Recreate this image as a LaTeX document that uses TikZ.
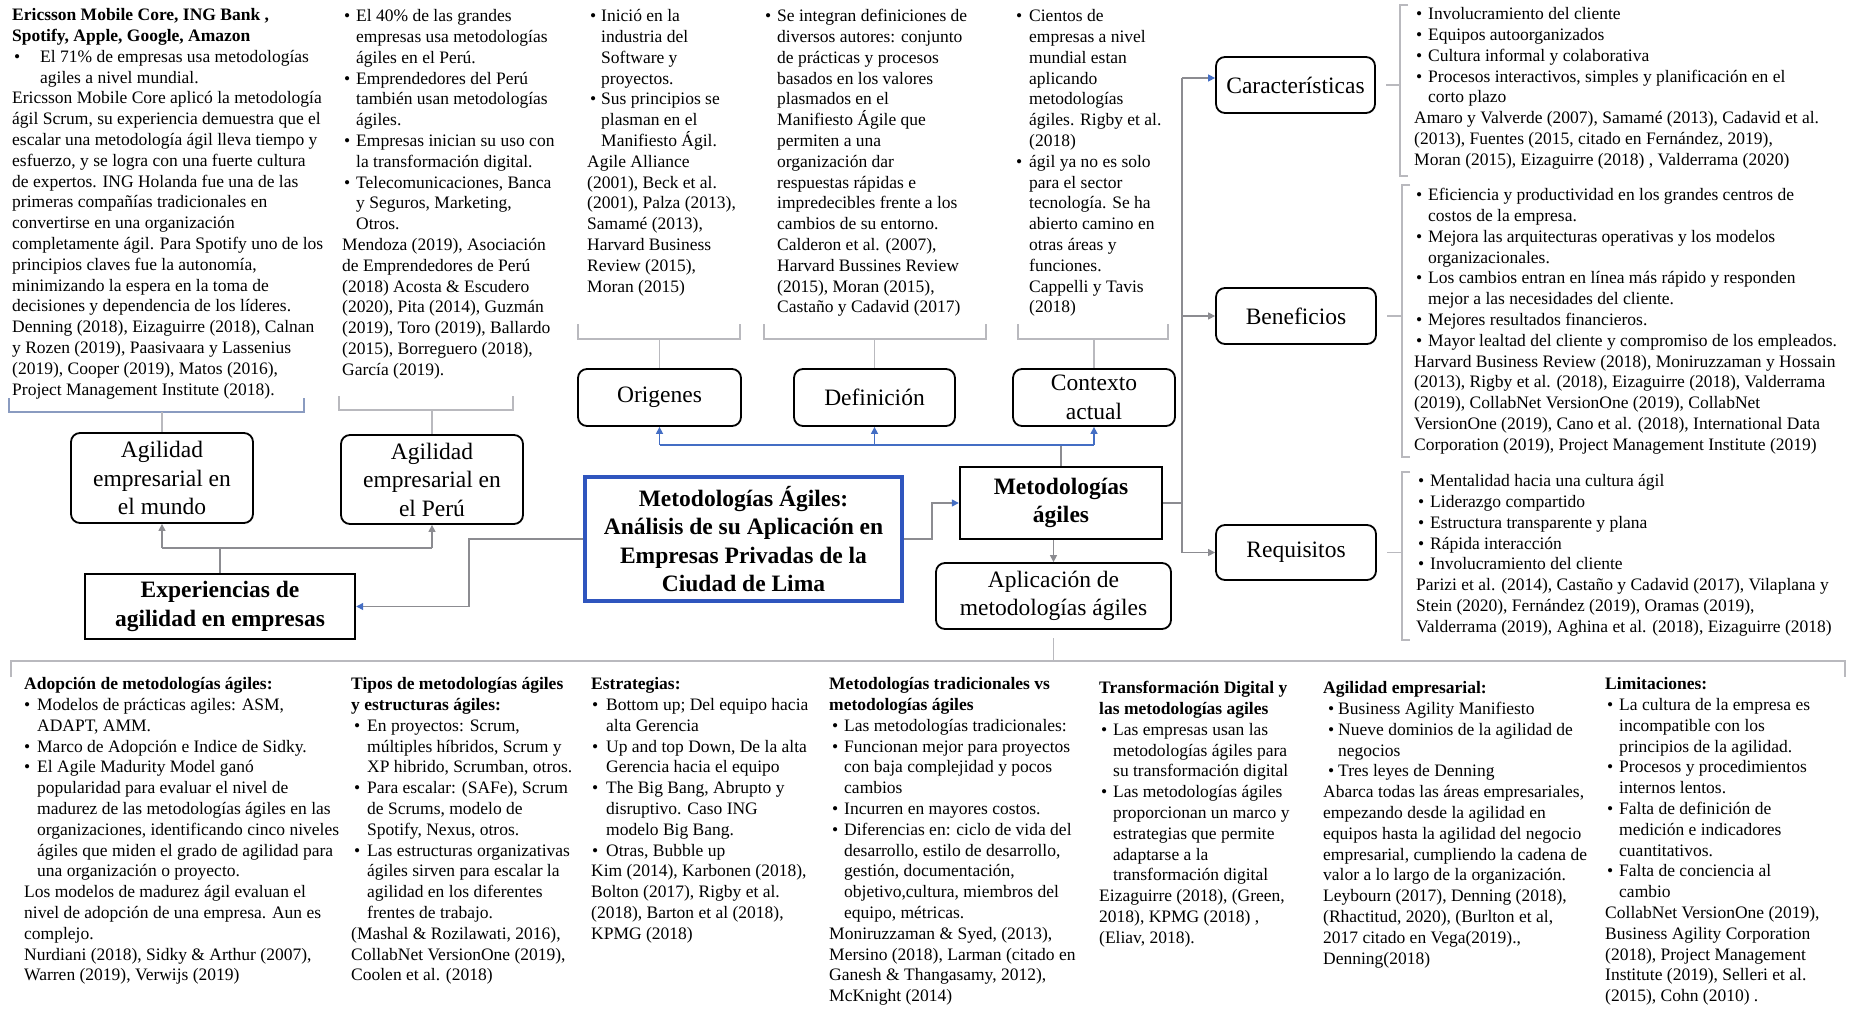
\documentclass[tikz,border=0pt]{standalone}
\usepackage{fontspec}
\setmainfont{Liberation Serif}
\usetikzlibrary{arrows.meta}
\newlength\bo \newlength\bt
\newcommand\Bu{\hspace*{\bo}\makebox[\dimexpr\bt-\bo\relax][l]{•}}
\newcommand\In{\hspace*{\bt}}
\newcommand\fs{\fontsize{17.5pt}{20.8pt}\selectfont}
\newcommand\fb{\fontsize{23.5pt}{28.5pt}\selectfont}
\definecolor{blu}{RGB}{68,110,196}
\definecolor{cbl}{RGB}{47,85,190}
\definecolor{brkc}{RGB}{185,185,190}
\definecolor{conc}{RGB}{140,140,145}
\begin{document}
\begin{tikzpicture}[x=1pt,y=-1pt,
  txt/.style={anchor=north west,inner sep=0pt,align=left,font=\fs},
  rbox/.style={draw,rounded corners=9pt,line width=1.8pt,font=\fb,align=center,inner sep=0pt},
  sbox/.style={draw,line width=2.4pt,font=\fb\bfseries,align=center,inner sep=0pt},
  brk/.style={draw=brkc,line width=1.3pt},
  con/.style={draw=conc,line width=1.3pt},
  tip/.style={-{Triangle[length=7pt,width=7pt,color=conc]}},
  btip/.style={-{Triangle[length=7pt,width=7pt,color=blu]}}]
\fill[white] (0,0) rectangle (1849,1009);
\useasboundingbox (0,0) rectangle (1849,1009);

% ---------- boxes ----------
\node[rbox,minimum width=182pt,minimum height=90pt] (mundo) at (162,478) {Agilidad\\empresarial en\\el mundo};
\node[rbox,minimum width=182pt,minimum height=89pt] (peru) at (432,479.5) {Agilidad\\empresarial en\\el Perú};
\node[sbox,minimum width=270pt,minimum height=65pt] (exp) at (220,606.5) {Experiencias de\\agilidad en empresas};
\node[draw=cbl,line width=3.5pt,font=\fb\bfseries,align=center,inner sep=0pt,minimum width=317pt,minimum height=124pt] (central) at (743.5,539) {Metodologías Ágiles:\\Análisis de su Aplicación en\\Empresas Privadas de la\\Ciudad de Lima};
\node[rbox,minimum width=163pt,minimum height=57pt] (orig) at (659.5,397.5) {Origenes};
\node[rbox,minimum width=161pt,minimum height=57pt] (defi) at (874.5,397.5) {Definición};
\node[rbox,minimum width=162pt,minimum height=57pt] (ctx) at (1094,397.5) {Contexto\\actual};
\node[sbox,minimum width=202pt,minimum height=72pt] (metod) at (1061,503) {Metodologías\\ágiles};
\node[rbox,minimum width=235pt,minimum height=66pt] (aplic) at (1053.5,596) {Aplicación de\\metodologías ágiles};
\node[rbox,minimum width=159pt,minimum height=56pt] (carac) at (1295.5,85) {Características};
\node[rbox,minimum width=160pt,minimum height=56pt] (bene) at (1296,316) {Beneficios};
\node[rbox,minimum width=160pt,minimum height=55pt] (requi) at (1296,552.5) {Requisitos};

% ---------- connectors ----------
\coordinate (ej) at (220,548);
\draw[con] (exp.north) -- (ej);
\draw[con] (mundo.south |- ej) -- (peru.south |- ej);
\draw[con,tip] (mundo.south |- ej) -- (mundo.south);
\draw[con,tip] (peru.south |- ej) -- (peru.south);
\coordinate (cj) at (469,539);
\draw[con,btip] (central.west) -- (cj) |- (exp.east);
\coordinate (mj) at (932,539);
\draw[con,btip] (central.east) -- (mj) |- (metod.west);
\draw[con,tip] (aplic.north |- metod.south) -- (aplic.north);
\coordinate (bl) at (1061,445);
\draw[con] (metod.north) -- (bl);
\draw[draw=blu,line width=1.5pt] (orig.south |- bl) -- (ctx.south |- bl);
\draw[draw=blu,line width=1.5pt,btip] (orig.south |- bl) -- (orig.south);
\draw[draw=blu,line width=1.5pt,btip] (defi.south |- bl) -- (defi.south);
\draw[draw=blu,line width=1.5pt,btip] (ctx.south |- bl) -- (ctx.south);
\coordinate (rv1) at (1182,78);
\coordinate (rv2) at (1182,503);
\coordinate (rv3) at (1182,552.5);
\draw[con] (metod.east) -- (rv2);
\draw[con] (rv1) -- (rv3);
\draw[con,btip] (rv1) -- ([yshift=7pt]carac.west);
\draw[con,tip] (rv1 |- bene.west) -- (bene.west);
\draw[con,tip] (rv3) -- (requi.west);

% ---------- brackets ----------
\draw[draw=blu!40!brkc,line width=1.3pt] (9,398) -- (9,412) -- (304,412) -- (304,398);
\coordinate (b1) at (162,412); \draw[brk] (b1) -- (mundo.north);
\draw[brk] (339,396) -- (339,410) -- (513,410) -- (513,396);
\coordinate (b2) at (432,410); \draw[brk] (b2) -- (peru.north);
\draw[brk] (578,324) -- (578,339) -- (740,339) -- (740,324);
\coordinate (b3) at (659.5,339); \draw[brk] (b3) -- (orig.north);
\draw[brk] (764,324) -- (764,339) -- (986,339) -- (986,324);
\coordinate (b4) at (874.5,339); \draw[brk] (b4) -- (defi.north);
\draw[brk] (1018,324) -- (1018,339) -- (1168,339) -- (1168,324);
\coordinate (b5) at (1094,339); \draw[brk] (b5) -- (ctx.north);
\draw[brk] (1408,5) -- (1400,5) -- (1400,176) -- (1408,176);
\coordinate (b6) at (1400,85); \draw[brk] (b6) -- ([xshift=10pt]carac.east);
\draw[brk] (1410,185) -- (1402,185) -- (1402,457) -- (1410,457);
\coordinate (b7) at (1402,316); \draw[brk] (b7) -- ([xshift=10pt]bene.east);
\draw[brk] (1410,472) -- (1402,472) -- (1402,640) -- (1410,640);
\coordinate (b8) at (1402,552.5); \draw[brk] (b8) -- ([xshift=10pt]requi.east);
\draw[brk] (11,677) -- (11,661) -- (1845,661) -- (1845,677);
\coordinate (b9) at (1053.5,661); \draw[brk] (b9) -- ([yshift=-8pt]aplic.south);

% ---------- top texts ----------
\node[txt] (t1) at (12,6) {\strut\textbf{Ericsson Mobile Core, ING Bank ,}\\
\textbf{Spotify, Apple, Google, Amazon}\\
\hspace*{2pt}\makebox[26pt][l]{•}El 71\% de empresas usa metodologías\\
\hspace*{28pt}agiles a nivel mundial.\\
Ericsson Mobile Core aplicó la metodología\\
ágil Scrum, su experiencia demuestra que el\\
escalar una metodología ágil lleva tiempo y\\
esfuerzo, y se logra con una fuerte cultura\\
de expertos.  ING Holanda fue una de las\\
primeras compañías tradicionales en\\
convertirse en una organización\\
completamente ágil. Para Spotify uno de los\\
principios claves fue la autonomía,\\
minimizando la espera en la toma de\\
decisiones y dependencia de los líderes.\\
Denning (2018), Eizaguirre (2018), Calnan\\
y Rozen (2019), Paasivaara y Lassenius\\
(2019), Cooper (2019), Matos (2016),\\
Project Management Institute (2018).};

\setlength\bo{2pt}\setlength\bt{14pt}
\node[txt] (t2) at (342,7) {\strut\Bu El 40\% de las grandes\\
\In empresas usa metodologías\\
\In ágiles en el Perú.\\
\Bu Emprendedores del Perú\\
\In también usan metodologías\\
\In ágiles.\\
\Bu Empresas inician su uso con\\
\In la transformación digital.\\
\Bu Telecomunicaciones, Banca\\
\In y Seguros, Marketing,\\
\In Otros.\\
Mendoza (2019), Asociación\\
de Emprendedores de Perú\\
(2018) Acosta \& Escudero\\
(2020), Pita (2014), Guzmán\\
(2019), Toro (2019), Ballardo\\
(2015), Borreguero (2018),\\
García (2019).};

\setlength\bo{3pt}\setlength\bt{14pt}
\node[txt] (t3) at (587,7) {\strut\Bu Inició en la\\
\In industria del\\
\In Software y\\
\In proyectos.\\
\Bu Sus principios se\\
\In plasman en el\\
\In Manifiesto Ágil.\\
Agile Alliance\\
(2001), Beck et al.\\
(2001), Palza (2013),\\
Samamé (2013),\\
Harvard Business\\
Review (2015),\\
Moran (2015)};

\setlength\bo{0pt}\setlength\bt{12pt}
\node[txt] (t4) at (765,7) {\strut\Bu Se integran definiciones de\\
\In diversos autores: conjunto\\
\In de prácticas y procesos\\
\In basados en los valores\\
\In plasmados en el\\
\In Manifiesto Ágile que\\
\In permiten a una\\
\In organización dar\\
\In respuestas rápidas e\\
\In impredecibles frente a los\\
\In cambios de su entorno.\\
\In Calderon et al. (2007),\\
\In Harvard Bussines Review\\
\In (2015), Moran (2015),\\
\In Castaño y Cadavid (2017)};

\setlength\bo{0pt}\setlength\bt{13pt}
\node[txt] (t5) at (1016,7) {\strut\Bu Cientos de\\
\In empresas a nivel\\
\In mundial estan\\
\In aplicando\\
\In metodologías\\
\In ágiles. Rigby et al.\\
\In (2018)\\
\Bu ágil ya no es solo\\
\In para el sector\\
\In tecnología. Se ha\\
\In abierto camino en\\
\In otras áreas y\\
\In funciones.\\
\In Cappelli y Tavis\\
\In (2018)};

% ---------- right texts ----------
\setlength\bo{2pt}\setlength\bt{14pt}
\node[txt] (t6) at (1414,5) {\strut\Bu Involucramiento del cliente\\
\Bu Equipos autoorganizados\\
\Bu Cultura informal y colaborativa\\
\Bu Procesos interactivos, simples y planificación en el\\
\In corto plazo\\
Amaro y Valverde (2007), Samamé (2013), Cadavid et al.\\
(2013), Fuentes (2015, citado en Fernández, 2019),\\
Moran (2015), Eizaguirre (2018) , Valderrama (2020)};

\node[txt] (t7) at (1414,186) {\strut\Bu Eficiencia y productividad en los grandes centros de\\
\In costos de la empresa.\\
\Bu Mejora las arquitecturas operativas y los modelos\\
\In organizacionales.\\
\Bu Los cambios entran en línea más rápido y responden\\
\In mejor a las necesidades del cliente.\\
\Bu Mejores resultados financieros.\\
\Bu Mayor lealtad del cliente y compromiso de los empleados.\\
Harvard Business Review (2018), Moniruzzaman y Hossain\\
(2013), Rigby et al. (2018), Eizaguirre (2018), Valderrama\\
(2019), CollabNet VersionOne (2019), CollabNet\\
VersionOne (2019), Cano et al. (2018), International Data\\
Corporation (2019), Project Management Institute (2019)};

\node[txt] (t8) at (1416,472) {\strut\Bu Mentalidad hacia una cultura ágil\\
\Bu Liderazgo compartido\\
\Bu Estructura transparente y plana\\
\Bu Rápida interacción\\
\Bu Involucramiento del cliente\\
Parizi et al. (2014), Castaño y Cadavid (2017), Vilaplana y\\
Stein (2020), Fernández (2019), Oramas (2019),\\
Valderrama (2019), Aghina et al. (2018), Eizaguirre (2018)};

% ---------- bottom texts ----------
\setlength\bo{0pt}\setlength\bt{13pt}
\node[txt] (b1t) at (24,675) {\strut\textbf{Adopción de metodologías ágiles:}\\
\Bu Modelos de prácticas agiles: ASM,\\
\In ADAPT, AMM.\\
\Bu Marco de Adopción e Indice de Sidky.\\
\Bu El Agile Madurity Model ganó\\
\In popularidad para evaluar el nivel de\\
\In madurez de las metodologías ágiles en las\\
\In organizaciones, identificando cinco niveles\\
\In ágiles que miden el grado de agilidad  para\\
\In una organización o proyecto.\\
Los modelos de madurez ágil evaluan el\\
nivel de adopción de una empresa. Aun es\\
complejo.\\
Nurdiani (2018), Sidky \& Arthur (2007),\\
Warren (2019), Verwijs (2019)};

\setlength\bo{3pt}\setlength\bt{16pt}
\node[txt] (b2t) at (351,675) {\strut\textbf{Tipos de metodologías ágiles}\\
\textbf{y estructuras ágiles:}\\
\Bu En proyectos: Scrum,\\
\In múltiples híbridos, Scrum y\\
\In XP hibrido, Scrumban, otros.\\
\Bu Para escalar: (SAFe), Scrum\\
\In de Scrums, modelo de\\
\In Spotify, Nexus, otros.\\
\Bu Las estructuras organizativas\\
\In ágiles sirven para escalar la\\
\In agilidad en los diferentes\\
\In frentes de trabajo.\\
(Mashal \& Rozilawati, 2016),\\
CollabNet VersionOne (2019),\\
Coolen et al. (2018)};

\setlength\bo{1pt}\setlength\bt{15pt}
\node[txt] (b3t) at (591,675) {\strut\textbf{Estrategias:}\\
\Bu Bottom up; Del equipo hacia\\
\In alta Gerencia\\
\Bu Up and top Down, De la alta\\
\In Gerencia hacia el equipo\\
\Bu The Big Bang, Abrupto y\\
\In disruptivo. Caso ING\\
\In modelo Big Bang.\\
\Bu Otras, Bubble up\\
Kim (2014), Karbonen (2018),\\
Bolton (2017), Rigby et al.\\
(2018), Barton et al (2018),\\
KPMG (2018)};

\setlength\bo{3pt}\setlength\bt{15pt}
\node[txt] (b4t) at (829,675) {\strut\textbf{Metodologías tradicionales vs}\\
\textbf{metodologías ágiles}\\
\Bu Las metodologías tradicionales:\\
\Bu Funcionan mejor para proyectos\\
\In con baja complejidad y pocos\\
\In cambios\\
\Bu Incurren en mayores costos.\\
\Bu Diferencias en: ciclo de vida del\\
\In desarrollo, estilo de desarrollo,\\
\In gestión, documentación,\\
\In objetivo,cultura, miembros del\\
\In equipo, métricas.\\
Moniruzzaman \& Syed, (2013),\\
Mersino (2018), Larman (citado en\\
Ganesh \& Thangasamy, 2012),\\
McKnight (2014)};

\setlength\bo{2pt}\setlength\bt{14pt}
\node[txt] (b5t) at (1099,679) {\strut\textbf{Transformación Digital y}\\
\textbf{las metodologías agiles}\\
\Bu Las empresas usan las\\
\In metodologías ágiles para\\
\In su transformación digital\\
\Bu Las metodologías ágiles\\
\In proporcionan un marco y\\
\In estrategias que permite\\
\In adaptarse a la\\
\In transformación digital\\
Eizaguirre (2018), (Green,\\
2018), KPMG (2018) ,\\
(Eliav, 2018).};

\setlength\bo{5pt}\setlength\bt{15pt}
\node[txt] (b6t) at (1323,679) {\strut\textbf{Agilidad empresarial:}\\
\Bu Business Agility Manifiesto\\
\Bu Nueve dominios de la agilidad de\\
\In negocios\\
\Bu Tres leyes de Denning\\
Abarca todas las áreas empresariales,\\
empezando desde la agilidad en\\
equipos  hasta la agilidad del negocio\\
empresarial, cumpliendo la cadena de\\
valor a lo largo de la organización.\\
Leybourn (2017), Denning (2018),\\
(Rhactitud, 2020), (Burlton et al,\\
2017 citado en Vega(2019).,\\
Denning(2018)};

\setlength\bo{2pt}\setlength\bt{14pt}
\node[txt] (b7t) at (1605,675) {\strut\textbf{Limitaciones:}\\
\Bu La cultura de la empresa es\\
\In incompatible con los\\
\In principios de la agilidad.\\
\Bu Procesos y procedimientos\\
\In internos lentos.\\
\Bu Falta de definición de\\
\In medición e indicadores\\
\In cuantitativos.\\
\Bu Falta de conciencia al\\
\In cambio\\
CollabNet VersionOne (2019),\\
Business Agility Corporation\\
(2018), Project Management\\
Institute (2019), Selleri et al.\\
(2015), Cohn (2010) .};
\end{tikzpicture}
\end{document}
